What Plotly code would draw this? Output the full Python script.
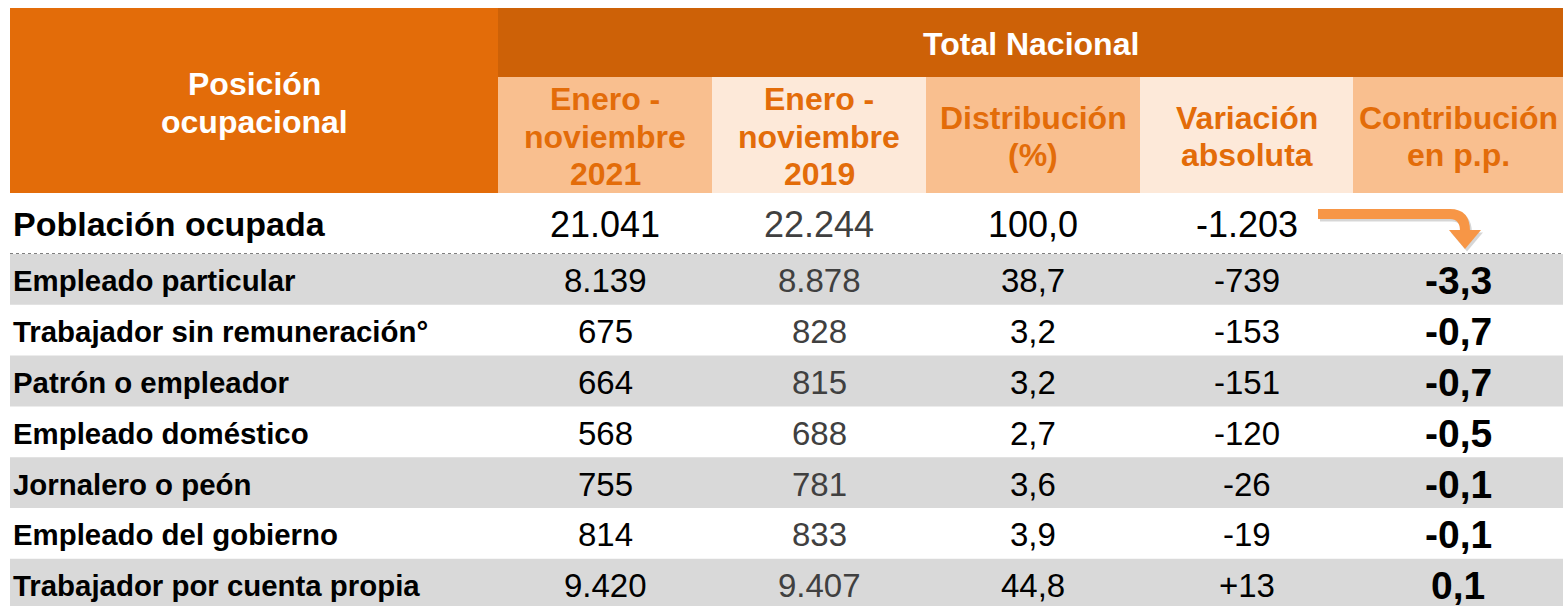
import plotly.graph_objects as go

# ---------------- DATA ----------------
row_header = "Posición ocupacional"
group_header = "Total Nacional"
col_headers = ["Enero -<br>noviembre<br>2021", "Enero -<br>noviembre<br>2019",
               "Distribución<br>(%)", "Variación<br>absoluta", "Contribución<br>en p.p."]

total_label = "Población ocupada"
total_2021 = 21041
total_2019 = 22244
total_dist = 100.0
total_var = -1203

categories = ["Empleado particular", "Trabajador sin remuneración°", "Patrón o empleador",
              "Empleado doméstico", "Jornalero o peón", "Empleado del gobierno",
              "Trabajador por cuenta propia"]
values_2021 = [8139, 675, 664, 568, 755, 814, 9420]
values_2019 = [8878, 828, 815, 688, 781, 833, 9407]
distribution = [38.7, 3.2, 3.2, 2.7, 3.6, 3.9, 44.8]
variation = [-739, -153, -151, -120, -26, -19, 13]
contribution = [-3.3, -0.7, -0.7, -0.5, -0.1, -0.1, 0.1]


def fmt_int(v, sign=False):
    s = f"{abs(v):,}".replace(",", ".")
    if v < 0:
        return "-" + s
    if sign and v > 0:
        return "+" + s
    return s


def fmt_dec(v):
    return f"{v:.1f}".replace(".", ",")


# ---------------- LAYOUT CONSTANTS ----------------
W, H = 1563, 606
FONT = "Liberation Sans, Arial, sans-serif"
LEFT = 10
col_edges = [498, 712, 926, 1140, 1353, 1563]
col_centers = [(col_edges[i] + col_edges[i + 1]) / 2 for i in range(5)]
TOP, BAND_BOT, HEAD_BOT = 8, 77, 193
TOTAL_BOT = 253.5
ROW_H = 50.8

DARK = "#CD6107"
ORANGE = "#E36C09"
LIGHT = "#F9BF8F"
PALE = "#FDE9D9"
GRAY = "#D9D9D9"
ARROW = "#F79646"

shapes = []
annotations = []


def rect(x0, y0, x1, y1, color):
    shapes.append(dict(type="rect", xref="x", yref="y", x0=x0, x1=x1, y0=y0, y1=y1,
                       fillcolor=color, line=dict(width=0), layer="below"))


def text(x, y, s, size, color="black", bold=False, anchor="center"):
    if bold:
        s = "<b>" + s + "</b>"
    annotations.append(dict(x=x, y=y, xref="x", yref="y", text=s, showarrow=False,
                            xanchor=anchor, yanchor="middle",
                            font=dict(family=FONT, size=size, color=color)))


# header blocks
rect(LEFT, TOP, col_edges[0], HEAD_BOT, ORANGE)
rect(col_edges[0], TOP, col_edges[-1], BAND_BOT, DARK)
for i in range(5):
    rect(col_edges[i], BAND_BOT, col_edges[i + 1], HEAD_BOT, LIGHT if i % 2 == 0 else PALE)

# header texts (each line placed separately for line spacing control)
LINE = 37.5
hy = [83.5, 121.5]
for k, line in enumerate(["Posición", "ocupacional"]):
    text((LEFT + col_edges[0]) / 2, hy[k], line, 32, "white", True)
text((col_edges[0] + col_edges[-1]) / 2, 43.5, group_header, 32, "white", True)
mid = 136.5
for i, h in enumerate(col_headers):
    lines = h.split("<br>")
    n = len(lines)
    for k, line in enumerate(lines):
        y = mid + (k - (n - 1) / 2) * LINE
        text(col_centers[i], y, line, 32, ORANGE, True)

# total row
ty = 224
text(LEFT + 1, ty, total_label, 34, "black", True, "left")
text(col_centers[0], ty, fmt_int(total_2021), 36, "black")
text(col_centers[1], ty, fmt_int(total_2019), 36, "#404040")
text(col_centers[2], ty, fmt_dec(total_dist), 36, "black")
text(col_centers[3], ty, fmt_int(total_var), 36, "black")

# dotted separator
shapes.append(dict(type="line", xref="x", yref="y", x0=LEFT, x1=W, y0=TOTAL_BOT, y1=TOTAL_BOT,
                   line=dict(color="#7F7F7F", width=1.2, dash="dot")))

# body rows
for r, cat in enumerate(categories):
    y0 = TOTAL_BOT + 0.5 + r * ROW_H
    y1 = y0 + ROW_H
    if r % 2 == 0:
        rect(LEFT, y0, W, y1, GRAY)
    yc = (y0 + y1) / 2 + 1.5
    text(LEFT + 1, yc, cat, 29.4, "black", True, "left")
    text(col_centers[0], yc, fmt_int(values_2021[r]), 33, "black")
    text(col_centers[1], yc, fmt_int(values_2019[r]), 33, "#404040")
    text(col_centers[2], yc, fmt_dec(distribution[r]), 33, "black")
    text(col_centers[3], yc, fmt_int(variation[r], sign=True), 33, "black")
    text(col_centers[4], yc, fmt_dec(contribution[r]), 39, "black", True)

# bent arrow (filled band with rounded corner, plus soft shadow)
for dx, dy, col in [(2, 2.5, "rgba(0,0,0,0.16)"), (0, 0, ARROW)]:
    shaft = (f"M {1318+dx} {209+dy} L {1450+dx} {209+dy} "
             f"Q {1470+dx} {209+dy} {1470+dx} {231+dy} L {1460+dx} {231+dy} "
             f"Q {1460+dx} {219+dy} {1450+dx} {219+dy} L {1318+dx} {219+dy} Z")
    shapes.append(dict(type="path", xref="x", yref="y", path=shaft,
                       line=dict(width=0), fillcolor=col))
    shapes.append(dict(type="path", xref="x", yref="y",
                       path=f"M {1449+dx} {230+dy} L {1481+dx} {230+dy} L {1465+dx} {249+dy} Z",
                       line=dict(width=0), fillcolor=col))

fig = go.Figure()
fig.add_trace(go.Scatter(x=[0, W], y=[0, H], mode="markers", marker=dict(opacity=0),
                         hoverinfo="skip", showlegend=False))
fig.update_layout(
    width=W, height=H, margin=dict(l=0, r=0, t=0, b=0),
    paper_bgcolor="white", plot_bgcolor="white",
    xaxis=dict(range=[0, W], visible=False, fixedrange=True),
    yaxis=dict(range=[H, 0], visible=False, fixedrange=True),
    shapes=shapes, annotations=annotations, showlegend=False,
)
fig.write_html("out.html", config={"displayModeBar": False},
               post_script="document.body.style.margin='0';document.body.style.overflow='hidden';")
